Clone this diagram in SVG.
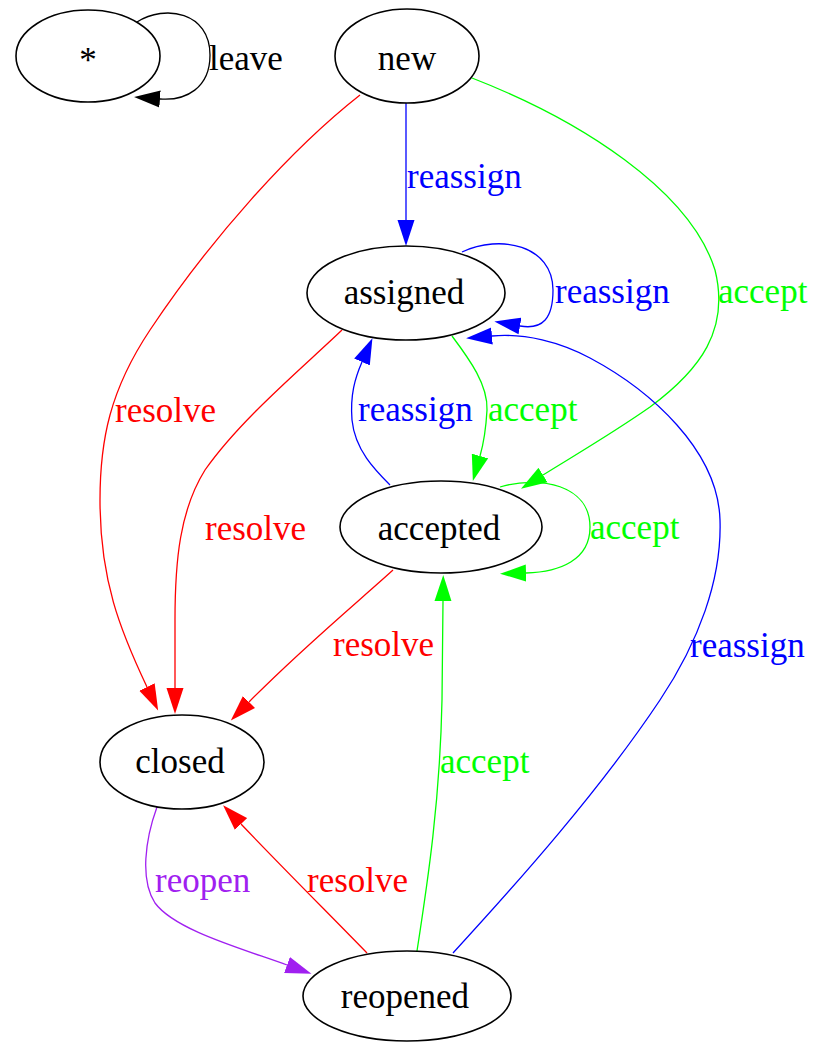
<svg xmlns="http://www.w3.org/2000/svg" width="822" height="1042" viewBox="0 0 822 1042">
<style>
  .node ellipse { fill: none; stroke: #000; stroke-width: 1.6; }
  .node text { font-family: "Liberation Serif", "Times New Roman", serif; font-size: 35px; fill: #000; text-anchor: middle; }
  .edge path { fill: none; stroke-width: 1.3; }
  .lbl { font-family: "Liberation Serif", "Times New Roman", serif; font-size: 35px; }
  .k { stroke: #000; } .b { stroke: #0000ff; } .g { stroke: #00ff00; } .r { stroke: #ff0000; } .p { stroke: #a020f0; }
  .tb { fill: #0000ff; } .tg { fill: #00ff00; } .tr { fill: #ff0000; } .tp { fill: #a020f0; } .tk { fill: #000; }
</style>
<defs>
  <marker id="ak" markerUnits="userSpaceOnUse" viewBox="0 0 27 18" markerWidth="27" markerHeight="18" refX="0" refY="9" orient="auto"><path d="M0,0.5 L26,9 L0,17.5 z" fill="#000"/></marker>
  <marker id="ab" markerUnits="userSpaceOnUse" viewBox="0 0 27 18" markerWidth="27" markerHeight="18" refX="0" refY="9" orient="auto"><path d="M0,0.5 L26,9 L0,17.5 z" fill="#0000ff"/></marker>
  <marker id="ag" markerUnits="userSpaceOnUse" viewBox="0 0 27 18" markerWidth="27" markerHeight="18" refX="0" refY="9" orient="auto"><path d="M0,0.5 L26,9 L0,17.5 z" fill="#00ff00"/></marker>
  <marker id="ar" markerUnits="userSpaceOnUse" viewBox="0 0 27 18" markerWidth="27" markerHeight="18" refX="0" refY="9" orient="auto"><path d="M0,0.5 L26,9 L0,17.5 z" fill="#ff0000"/></marker>
  <marker id="ap" markerUnits="userSpaceOnUse" viewBox="0 0 27 18" markerWidth="27" markerHeight="18" refX="0" refY="9" orient="auto"><path d="M0,0.5 L26,9 L0,17.5 z" fill="#a020f0"/></marker>
</defs>
<rect width="822" height="1042" fill="#fff"/>

<g id="edges" class="edge">
  <path class="k" d="M137,22 C165,4 210,12 210,55 C210,88 186,101 160,99" marker-end="url(#ak)"/>
  <text class="lbl tk" x="209" y="70">leave</text>

  <path class="b" d="M406,103 L406,220" marker-end="url(#ab)"/>
  <text class="lbl tb" x="407" y="188">reassign</text>

  <path class="r" d="M360,95 C290,150 210,240 150,330 C110,390 100,440 100,500 C100,580 120,630 147,687" marker-end="url(#ar)"/>
  <text class="lbl tr" x="115" y="422">resolve</text>

  <path class="g" d="M472,78 C580,120 690,190 715,270 C730,330 700,370 650,407 C610,435 570,458 543,475" marker-end="url(#ag)"/>
  <text class="lbl tg" x="718" y="303">accept</text>

  <path class="b" d="M462,252 C500,234 553,245 553,290 C553,318 543,330 520,326" marker-end="url(#ab)"/>
  <text class="lbl tb" x="555" y="303">reassign</text>

  <path class="b" d="M453,953 C520,880 600,790 660,700 C698,643 722,580 720,520 C718,450 650,390 590,358 C560,342 525,333 492,336" marker-end="url(#ab)"/>
  <text class="lbl tb" x="690" y="657">reassign</text>

  <path class="g" d="M452,336 C470,360 488,385 487,410 C486,428 484,442 480,456" marker-end="url(#ag)"/>
  <text class="lbl tg" x="488" y="421">accept</text>

  <path class="b" d="M390,485 C375,470 355,450 352,420 C350,395 355,378 362,362" marker-end="url(#ab)"/>
  <text class="lbl tb" x="358" y="421">reassign</text>

  <path class="g" d="M500,487 C540,475 590,485 590,527 C590,560 560,572 526,573" marker-end="url(#ag)"/>
  <text class="lbl tg" x="590" y="539">accept</text>

  <path class="r" d="M342,330 C300,370 240,420 205,470 C180,510 175,560 175,620 L175,688" marker-end="url(#ar)"/>
  <text class="lbl tr" x="205" y="540">resolve</text>

  <path class="r" d="M393,570 C360,600 300,650 249,702" marker-end="url(#ar)"/>
  <text class="lbl tr" x="333" y="656">resolve</text>

  <path class="g" d="M417,951 C428,880 440,800 442,700 L443,601" marker-end="url(#ag)"/>
  <text class="lbl tg" x="440" y="773">accept</text>

  <path class="p" d="M157,807 C145,840 140,880 155,903 C175,930 240,948 287,965" marker-end="url(#ap)"/>
  <text class="lbl tp" x="155" y="892">reopen</text>

  <path class="r" d="M367,953 C330,915 280,865 241,824" marker-end="url(#ar)"/>
  <text class="lbl tr" x="307" y="892">resolve</text>
</g>

<g id="node-star" class="node">
  <ellipse cx="88" cy="56" rx="72" ry="46"/>
  <text x="88" y="72">*</text>
</g>
<g id="node-new" class="node">
  <ellipse cx="407" cy="56" rx="72" ry="47"/>
  <text x="407" y="70">new</text>
</g>
<g id="node-assigned" class="node">
  <ellipse cx="406" cy="293" rx="99" ry="47"/>
  <text x="404" y="304">assigned</text>
</g>
<g id="node-accepted" class="node">
  <ellipse cx="441" cy="527" rx="101" ry="46"/>
  <text x="439" y="540">accepted</text>
</g>
<g id="node-closed" class="node">
  <ellipse cx="182" cy="762" rx="82" ry="47"/>
  <text x="180" y="773">closed</text>
</g>
<g id="node-reopened" class="node">
  <ellipse cx="407" cy="996" rx="104" ry="45"/>
  <text x="405" y="1008">reopened</text>
</g>
</svg>
